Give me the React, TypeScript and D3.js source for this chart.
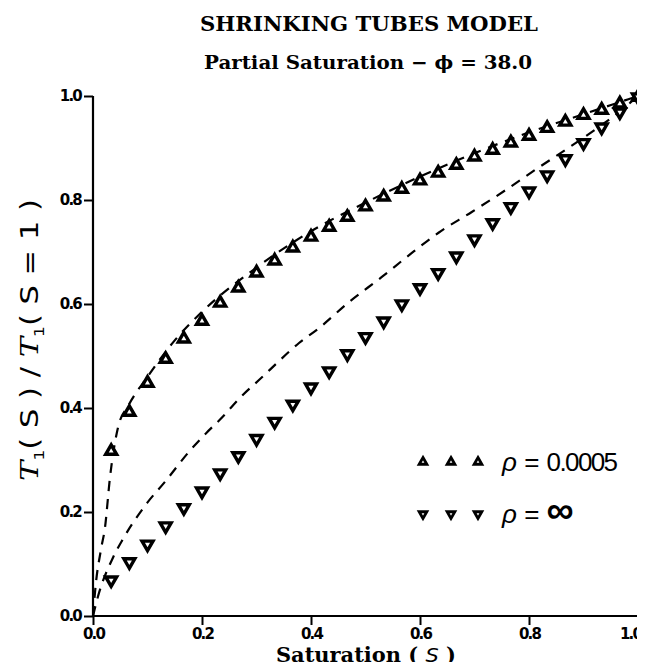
import React, { useEffect, useRef } from "react";
import * as d3 from "d3";

// saturation values of the markers (k/30)
const sat = d3.range(1, 31).map((k) => k / 30);

// rho = 0.0005, up triangles
const rhoSmall = [
  0.317, 0.392, 0.448, 0.494, 0.533, 0.567, 0.602, 0.631, 0.66, 0.683,
  0.708, 0.729, 0.748, 0.767, 0.787, 0.806, 0.821, 0.837, 0.852, 0.867,
  0.883, 0.896, 0.91, 0.923, 0.938, 0.95, 0.963, 0.973, 0.985, 0.998,
];

// rho = infinity, down triangles
const rhoInf = [
  0.069, 0.104, 0.138, 0.173, 0.208, 0.24, 0.275, 0.308, 0.341, 0.374,
  0.407, 0.44, 0.471, 0.504, 0.537, 0.567, 0.6, 0.631, 0.66, 0.692,
  0.725, 0.756, 0.787, 0.817, 0.848, 0.879, 0.91, 0.94, 0.969, 0.998,
];

// dashed model curves [S, value]
const curveSmall: [number, number][] = [
  [0, 0], [0.005, 0.06], [0.015, 0.13], [0.022, 0.17], [0.031, 0.265],
  [0.046, 0.363], [0.065, 0.405], [0.1, 0.46], [0.15, 0.53], [0.2, 0.585],
  [0.3, 0.67], [0.4, 0.74], [0.5, 0.795], [0.6, 0.845], [0.7, 0.89],
  [0.8, 0.93], [0.9, 0.965], [1, 1],
];
const curveInf: [number, number][] = [
  [0, 0], [0.009, 0.037], [0.037, 0.113], [0.055, 0.148], [0.099, 0.217],
  [0.132, 0.258], [0.177, 0.317], [0.208, 0.352], [0.238, 0.383],
  [0.269, 0.419], [0.311, 0.46], [0.338, 0.487], [0.378, 0.525],
  [0.415, 0.554], [0.47, 0.604], [0.53, 0.652], [0.58, 0.694],
  [0.634, 0.737], [0.695, 0.777], [0.757, 0.819], [0.817, 0.862],
  [0.872, 0.9], [0.921, 0.935], [0.963, 0.967], [1, 1],
];

const xTicks = [0, 0.2, 0.4, 0.6, 0.8, 1.0];
const yTicks = [0, 0.2, 0.4, 0.6, 0.8, 1.0];

const W = 645;
const H = 670;

const App = () => {
  const ref = useRef<SVGSVGElement>(null);

  useEffect(() => {
    const svg = d3.select(ref.current);
    svg.selectAll("*").remove();

    const x = d3.scaleLinear().domain([0, 1]).range([93, 638]);
    const y = d3.scaleLinear().domain([0, 1]).range([616, 96]);

    const bold = "'DejaVu Sans', sans-serif";
    const serif = "'DejaVu Serif', serif";

    // title
    svg.append("text")
      .attr("x", 369).attr("y", 31)
      .attr("text-anchor", "middle")
      .attr("font-family", serif).attr("font-size", 21)
      .attr("font-weight", "bold")
      .attr("textLength", 338).attr("lengthAdjust", "spacingAndGlyphs")
      .text("SHRINKING TUBES MODEL");

    svg.append("text")
      .attr("x", 368).attr("y", 69)
      .attr("text-anchor", "middle")
      .attr("font-family", serif).attr("font-size", 19)
      .attr("font-weight", "bold")
      .attr("textLength", 328).attr("lengthAdjust", "spacingAndGlyphs")
      .text("Partial Saturation \u2212 \u03d5 = 38.0");

    // axes
    const xAxis = svg.append("g").attr("transform", `translate(0,${y(0)})`)
      .call(d3.axisBottom(x).tickValues(xTicks).tickSize(9).tickFormat(d3.format(".1f")));
    const yAxis = svg.append("g").attr("transform", `translate(${x(0)},0)`)
      .call(d3.axisLeft(y).tickValues(yTicks).tickSize(9).tickFormat(d3.format(".1f")));

    xAxis.select(".domain").attr("d", `M${x(0)},0H${x(1)}`);
    yAxis.select(".domain").attr("d", `M0,${y(0)}V${y(1)}`);
    [xAxis, yAxis].forEach((g) => {
      g.select(".domain").attr("stroke", "#000").attr("stroke-width", 2.2);
      g.selectAll(".tick line").attr("stroke", "#000").attr("stroke-width", 2);
      g.selectAll(".tick text")
        .attr("font-family", bold).attr("font-weight", "bold")
        .attr("font-size", 15).attr("letter-spacing", -1.8).attr("fill", "#000");
    });
    xAxis.selectAll(".tick text").attr("y", 12).attr("dy", "0.71em")
      .attr("text-anchor", "middle")
      .attr("x", (d: any) => (d === 1 ? -8 : 0));
    yAxis.selectAll(".tick text").attr("x", -12);

    // axis labels
    const xl = svg.append("text")
      .attr("x", 366).attr("y", 662)
      .attr("text-anchor", "middle")
      .attr("font-family", serif).attr("font-size", 20).attr("font-weight", "bold")
      .attr("textLength", 180).attr("lengthAdjust", "spacingAndGlyphs");
    xl.append("tspan").text("Saturation ( ");
    xl.append("tspan").attr("font-family", bold).attr("font-weight", "normal")
      .attr("font-style", "italic").text("S");
    xl.append("tspan").text(" )");

    const yl = svg.append("text")
      .attr("transform", "translate(38,340) rotate(-90)")
      .attr("text-anchor", "middle")
      .attr("font-family", bold).attr("font-size", 25)
      .attr("textLength", 282).attr("lengthAdjust", "spacingAndGlyphs");
    yl.append("tspan").attr("font-style", "italic").attr("font-family", serif).text("T");
    yl.append("tspan").attr("font-size", 14).attr("dy", 6).text("1");
    yl.append("tspan").attr("dy", -6).text("( S ) / ");
    yl.append("tspan").attr("font-style", "italic").attr("font-family", serif).text("T");
    yl.append("tspan").attr("font-size", 14).attr("dy", 6).text("1");
    yl.append("tspan").attr("dy", -6).text("( S = 1 )");

    // dashed curves
    const line = d3.line<[number, number]>()
      .x((d) => x(d[0])).y((d) => y(d[1]))
      .curve(d3.curveMonotoneX);
    [curveSmall, curveInf].forEach((c) => {
      svg.append("path")
        .attr("d", line(c))
        .attr("fill", "none").attr("stroke", "#000")
        .attr("stroke-width", 2.2).attr("stroke-dasharray", "10,8");
    });

    // markers
    const tri = d3.symbol().type(d3.symbolTriangle);
    const drawMarks = (vals: number[], down: boolean) => {
      svg.append("g").selectAll("path")
        .data(vals)
        .enter()
        .append("path")
        .attr("d", tri.size(52)())
        .attr("transform", (d, i) =>
          `translate(${x(sat[i])},${y(d)})${down ? " rotate(180)" : ""}`)
        .attr("fill", "#fff").attr("stroke", "#000").attr("stroke-width", 3.4);
    };
    drawMarks(rhoSmall, false);
    drawMarks(rhoInf, true);

    // legend
    const legend = [
      { label: "0.0005", down: false, y: 462 },
      { label: "\u221e", down: true, y: 514 },
    ];
    legend.forEach((l) => {
      [423, 451, 478].forEach((lx) => {
        svg.append("path")
          .attr("d", tri.size(26)())
          .attr("transform", `translate(${lx},${l.y})${l.down ? " rotate(180)" : ""}`)
          .attr("fill", "#fff").attr("stroke", "#000").attr("stroke-width", 2.8);
      });
      const t = svg.append("text")
        .attr("x", 502).attr("y", l.y + 9)
        .attr("font-family", "'Liberation Sans', sans-serif").attr("font-size", 26);
      t.append("tspan").attr("font-style", "italic").text("\u03c1");
      t.append("tspan").text(" = ");
      t.append("tspan")
        .attr("font-weight", l.down ? "bold" : "normal")
        .attr("font-size", l.down ? 38 : 26)
        .attr("letter-spacing", l.down ? 0 : -1.6)
        .text(l.label);
    });
  }, []);

  return <svg ref={ref} width={W} height={H} style={{ display: "block", margin: -8 }} />;
};

export default App;
